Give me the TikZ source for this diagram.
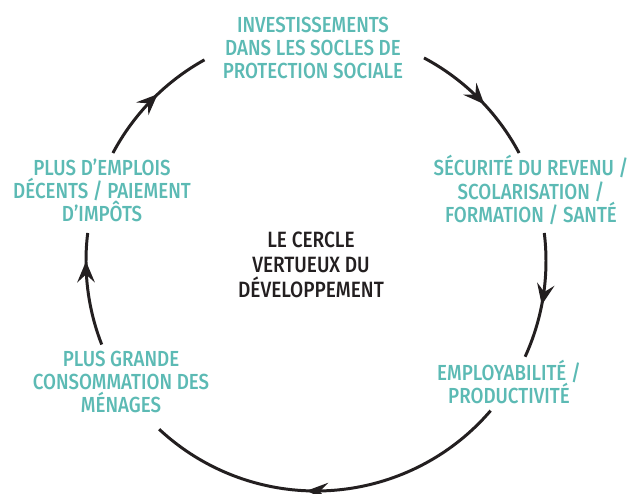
\documentclass[tikz,border=0pt]{standalone}
\usepackage{fontspec}
\setmainfont[FakeStretch=0.86, UprightFont=* Medium]{Fira Sans}
\usetikzlibrary{positioning}
\usetikzlibrary{arrows.meta,decorations.markings}
\definecolor{tealtext}{HTML}{5CBAB4}
\definecolor{inkblack}{HTML}{231F20}

\begin{document}
\begin{tikzpicture} [x=0.02cm, y=0.02cm,
	stage/.style={text=tealtext, align=center, font=\fontsize{12.4}{13.1}\selectfont},
	core/.style={text=inkblack, align=center, font=\fontsize{12.6}{14.2}\selectfont},
	ring/.style={line width=1.7pt, draw=inkblack, postaction={decorate},
		decoration={markings, mark=at position #1 with {\arrow{Stealth[length=12pt,width=10pt,inset=4.5pt]}}}},
	ring/.default=0.56]

\useasboundingbox (0,0) rectangle (630,494);

\coordinate (c) at (316,233);

\node [stage]	(inv)	at (313,446)	{INVESTISSEMENTS\\DANS LES SOCLES DE\\PROTECTION SOCIALE};
\node [stage]	(sec)	at (531,304)	{SÉCURITÉ DU REVENU /\\SCOLARISATION /\\FORMATION / SANTÉ};
\node [stage]	(emp)	at (509,112)	{EMPLOYABILITÉ /\\PRODUCTIVITÉ};
\node [stage]	(con)	at (121,112)	{PLUS GRANDE\\CONSOMMATION DES\\MÉNAGES};
\node [stage]	(plus)	at (102,304)	{PLUS D’EMPLOIS\\DÉCENTS / PAIEMENT\\D’IMPÔTS};
\node [core]	(mid)	at (311,229)	{LE CERCLE\\VERTUEUX DU\\DÉVELOPPEMENT};

% arcs of the circle, clockwise
\draw [ring]		(c) ++(152:230) arc [start angle=152, end angle=119, radius=230];
\draw [ring]		(c) ++(62:230) arc [start angle=62, end angle=28, radius=230];
\draw [ring=0.57]	(c) ++(7:230) arc [start angle=7, end angle=-24.6, radius=230];
\draw [ring]		(c) ++(-40.6:230) arc [start angle=-40.6, end angle=-133, radius=230];
\draw [ring=0.75]	(c) ++(201.3:230) arc [start angle=201.3, end angle=173, radius=230];

\end{tikzpicture}
\end{document}
